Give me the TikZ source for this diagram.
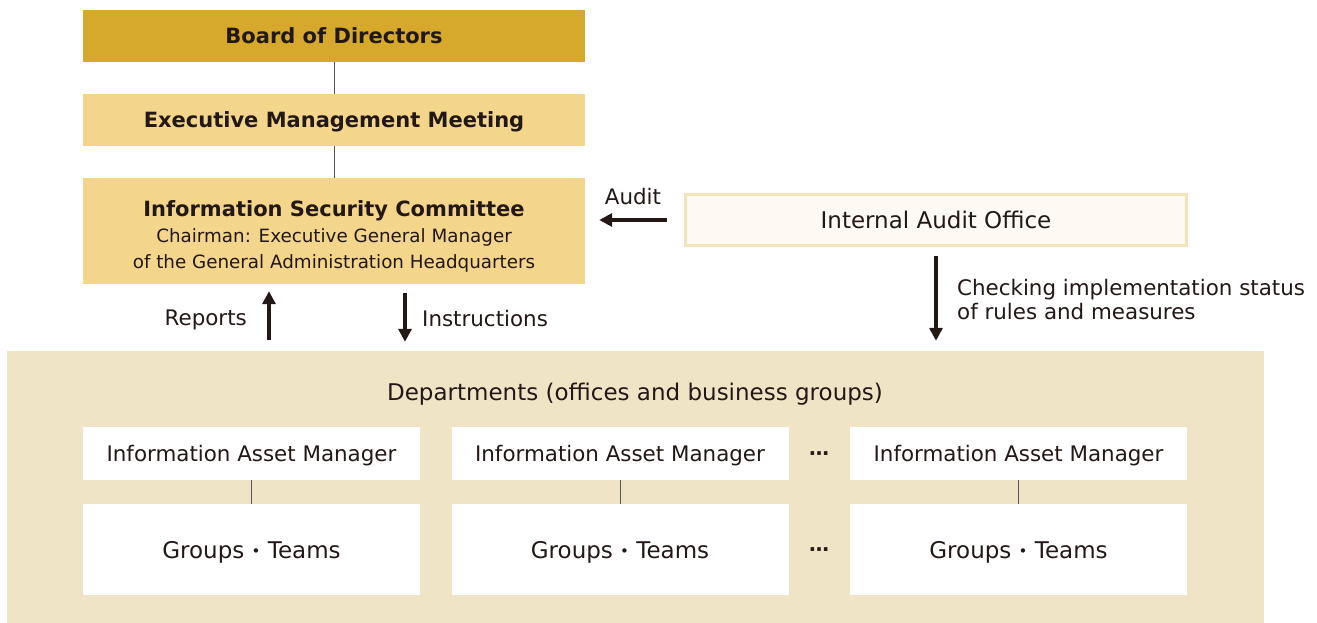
\documentclass[tikz,border=0pt]{standalone}
\usepackage{fontspec}
\setmainfont{DejaVu Sans}
\usetikzlibrary{arrows.meta,calc}
\definecolor{gold}{HTML}{D6A92D}
\definecolor{lightgold}{HTML}{F3D68C}
\definecolor{auditfill}{HTML}{FEFAF2}
\definecolor{auditborder}{HTML}{F4E4BA}
\definecolor{deptbg}{HTML}{F0E4C6}
\definecolor{ink}{HTML}{231815}
\definecolor{linkgray}{HTML}{555555}
\newcommand{\midbullet}{{\fontsize{15}{15}\selectfont\raisebox{1.5pt}{•}}}
\tikzset{
  box/.style={draw=none, inner sep=0pt, text=ink, align=center, text depth=0pt},
  topbox/.style={box, minimum width=502pt},
  whitebox/.style={box, fill=white, minimum width=337pt},
  link/.style={draw=linkgray, line width=0.9pt},
  arr/.style={draw=ink, line width=3.2pt, -{Triangle[width=13pt,length=13pt]}},
  lbl/.style={text=ink, inner sep=0pt, text depth=0pt},
  big/.style={font=\bfseries\fontsize{21}{25}\selectfont},
  mid/.style={font=\fontsize{21.4}{24}\selectfont},
  large/.style={font=\fontsize{23}{26}\selectfont}
}
\begin{document}
\begin{tikzpicture}[x=1pt,y=-1pt]
\useasboundingbox (0,0) rectangle (1317,623);
% department background
\node[box, fill=deptbg, minimum width=1257pt, minimum height=272pt] (dept) at (635.5,487) {};
\node[lbl, large] (depttitle) at (635,392) {Departments (offices and business groups)};
% top boxes
\node[topbox, fill=gold, minimum height=52pt, big] (bod) at (334,36) {Board of Directors};
\node[topbox, fill=lightgold, minimum height=52pt, big] (emm) at (334,120) {Executive Management Meeting};
\node[topbox, fill=lightgold, minimum height=106pt] (isc) at (334,231) {};
\node[lbl, align=center, font=\fontsize{18.3}{26}\selectfont] (isctext) at (334,235)
  {{\bfseries\fontsize{21}{26}\selectfont Information Security Committee}\\Chairman: Executive General Manager\\of the General Administration Headquarters};
\draw[link] (bod) -- (emm);
\draw[link] (emm) -- (isc);
% internal audit office
\node[box, fill=auditfill, draw=auditborder, line width=3pt, minimum width=501pt, minimum height=51pt, large] (iao) at (936,220) {Internal Audit Office};
\draw[arr, shorten <=17pt, shorten >=14pt] (iao.west) -- (isc.east |- iao.west);
\node[lbl, mid] (auditlbl) at (633,196) {Audit};
% reports / instructions
\coordinate (rp) at (269,0);
\coordinate (ip) at (405,0);
\coordinate (cp) at (936,0);
\draw[arr, shorten <=11pt, shorten >=7pt] (dept.north -| rp) -- (isc.south -| rp);
\draw[arr, shorten <=9pt, shorten >=9pt] (isc.south -| ip) -- (dept.north -| ip);
\node[lbl, mid, anchor=east] (replbl) at (247,318) {Reports};
\node[lbl, mid, anchor=west] (inslbl) at (422,318) {Instructions};
\draw[arr, shorten <=9pt, shorten >=10pt] (iao.south -| cp) -- (dept.north -| cp);
\node[lbl, mid, anchor=west, align=left] (chklbl) at (957,299) {Checking implementation status\\of rules and measures};
% managers and teams
\foreach \i/\x in {1/251.5, 2/620, 3/1018.5}{
  \node[whitebox, minimum height=53pt, mid] (iam\i) at (\x,453.5) {Information Asset Manager};
  \node[whitebox, minimum height=91pt, large] (grp\i) at (\x,549.5) {Groups \midbullet{} Teams};
  \draw[link] (iam\i) -- (grp\i);
}
\node[lbl, font=\bfseries\fontsize{20}{22}\selectfont] (dots1) at (819,456) {⋯};
\node[lbl, font=\bfseries\fontsize{20}{22}\selectfont] (dots2) at (819,552) {⋯};
\end{tikzpicture}
\end{document}
